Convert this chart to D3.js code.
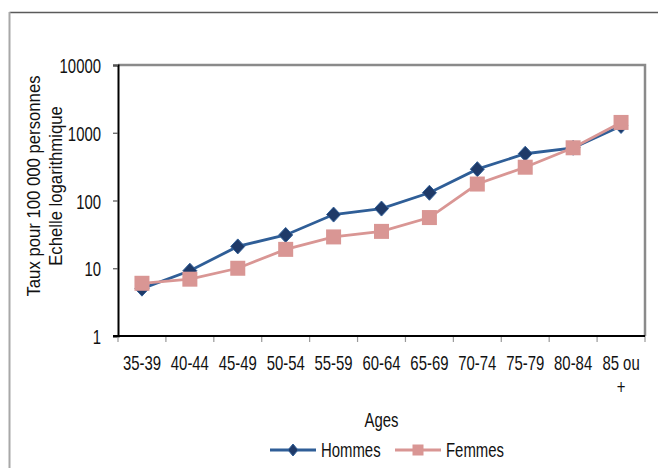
<!DOCTYPE html>
<html>
<head>
<meta charset="utf-8">
<script src="https://cdn.jsdelivr.net/npm/d3@7"></script>
<style>
  html, body { margin: 0; padding: 0; background: #fff; }
  svg { display: block; font-family: "Liberation Sans", Arial, sans-serif; }
</style>
</head>
<body>
<div id="container"></div>
<script>
// age groups and rates (per 100 000, log scale)
const ages = ["35-39", "40-44", "45-49", "50-54", "55-59", "60-64", "65-69", "70-74", "75-79", "80-84", "85 ou +"];
const hommes = [5, 9.2, 21, 31, 62, 76, 130, 290, 490, 600, 1260];
const femmes = [6, 6.9, 10, 19, 29, 35, 56, 175, 310, 600, 1420];
const yTicks = [1, 10, 100, 1000, 10000];
const seriesNames = ["Hommes", "Femmes"];

const W = 658, H = 468;
const plotL = 118, plotR = 645, plotT = 65, plotB = 336;
const blue = "#2f5e97", blueDark = "#1f3a68", pink = "#d99694";
const FS = 20;
const NARROW = 0.745; // fake Arial Narrow

// squeeze text horizontally around its x position
const condense = sel => sel.each(function () {
    const t = d3.select(this);
    const ax = +t.attr("x") || 0;
    t.attr("transform", `translate(${ax},0) scale(${NARROW},1) translate(${-ax},0)`);
});

const svg = d3.select("#container").append("svg")
    .attr("width", W)
    .attr("height", H);

svg.append("rect").attr("width", W).attr("height", H).attr("fill", "#fff");

// outer frame
svg.append("line").attr("x1", 9.5).attr("x2", W).attr("y1", 12.5).attr("y2", 12.5)
    .attr("stroke", "#5a5a5a").attr("stroke-width", 1.5);
svg.append("line").attr("x1", 9.5).attr("x2", 9.5).attr("y1", 12).attr("y2", H)
    .attr("stroke", "#a8a8a8").attr("stroke-width", 2);

const x = d3.scaleBand().domain(ages).range([plotL, plotR]).padding(0);
const y = d3.scaleLog().domain([1, 10000]).range([plotB, plotT]);

// plot frame (gray top/right)
svg.append("path")
    .attr("d", `M${plotL},${plotT}H${plotR}V${plotB}`)
    .attr("fill", "none").attr("stroke", "#8a8a8a").attr("stroke-width", 2.5);

// y axis
const yAxis = svg.append("g")
    .attr("transform", `translate(${plotL},0)`)
    .call(d3.axisLeft(y).tickValues(yTicks).tickFormat(d3.format("d")).tickSize(5).tickPadding(12));
yAxis.attr("font-family", null).attr("font-size", null);
yAxis.select(".domain").attr("stroke", "#000").attr("stroke-width", 2);
yAxis.selectAll(".tick line").attr("stroke", "#555").attr("stroke-width", 1.2);
yAxis.selectAll("text").attr("font-size", FS).attr("dy", "0.38em").attr("fill", "#111").call(condense);

// x axis baseline and boundary ticks
const bounds = ages.map(a => x(a)).concat([plotR]);
svg.append("g").selectAll("line").data(bounds).join("line")
    .attr("x1", d => d).attr("x2", d => d)
    .attr("y1", plotB).attr("y2", plotB + 6)
    .attr("stroke", "#999").attr("stroke-width", 1.2);
svg.append("line").attr("x1", plotL - 5).attr("x2", plotR).attr("y1", plotB).attr("y2", plotB)
    .attr("stroke", "#000").attr("stroke-width", 2);

// x tick labels (wrap last one)
const xl = svg.append("g").selectAll("text").data(ages).join("text")
    .attr("x", d => x(d) + x.bandwidth() / 2)
    .attr("y", 370)
    .attr("text-anchor", "middle")
    .attr("font-size", FS)
    .attr("fill", "#111");
xl.each(function (d) {
    const t = d3.select(this);
    const parts = d.length > 6 ? [d.slice(0, d.lastIndexOf(" ")), d.slice(d.lastIndexOf(" ") + 1)] : [d];
    parts.forEach((p, i) => {
        t.append("tspan").attr("x", x(d) + x.bandwidth() / 2).attr("dy", i ? 24 : 0).text(p);
    });
});
xl.call(condense);

// axis titles
const yt = svg.append("text")
    .attr("transform", "rotate(-90) translate(-186,0) scale(0.836,0.9)")
    .attr("text-anchor", "middle")
    .attr("font-size", FS)
    .attr("fill", "#111");
yt.append("tspan").attr("x", 0).attr("y", 40 / 0.9).text("Taux pour 100 000 personnes");
yt.append("tspan").attr("x", 0).attr("y", 62 / 0.9).text("Echelle logarithmique");

svg.append("text")
    .attr("x", (plotL + plotR) / 2).attr("y", 427)
    .attr("text-anchor", "middle").attr("font-size", FS).attr("fill", "#111")
    .text("Ages")
    .call(condense);

// lines
const line = d3.line()
    .x((d, i) => x(ages[i]) + x.bandwidth() / 2)
    .y(d => y(d));

svg.append("path").datum(hommes)
    .attr("d", line).attr("fill", "none")
    .attr("stroke", blue).attr("stroke-width", 2.8);

svg.append("g").selectAll("path").data(hommes).join("path")
    .attr("d", "M0,-7.5L7,0L0,7.5L-7,0Z")
    .attr("transform", (d, i) => `translate(${x(ages[i]) + x.bandwidth() / 2},${y(d)})`)
    .attr("fill", blueDark).attr("stroke", blue).attr("stroke-width", 1);

svg.append("path").datum(femmes)
    .attr("d", line).attr("fill", "none")
    .attr("stroke", pink).attr("stroke-width", 2.8);

svg.append("g").selectAll("rect").data(femmes).join("rect")
    .attr("x", (d, i) => x(ages[i]) + x.bandwidth() / 2 - 7.5)
    .attr("y", d => y(d) - 7.5)
    .attr("width", 15).attr("height", 15)
    .attr("fill", pink);

// legend
const legend = svg.append("g");
const lx = [270, 395];
seriesNames.forEach((name, i) => {
    const g = legend.append("g").attr("transform", `translate(${lx[i]},450)`);
    const c = i ? pink : blue;
    g.append("line").attr("x1", 0).attr("x2", 46).attr("stroke", c).attr("stroke-width", 2.8);
    if (i === 0) {
        g.append("path").attr("d", "M23,-6L28,0L23,6L18,0Z").attr("fill", blueDark).attr("stroke", blue);
    } else {
        g.append("rect").attr("x", 17.5).attr("y", -5.5).attr("width", 11).attr("height", 11).attr("fill", pink);
    }
    g.append("text").attr("x", 51).attr("y", 7)
        .attr("font-size", FS).attr("fill", "#111").text(name)
        .call(condense);
});
</script>
</body>
</html>
